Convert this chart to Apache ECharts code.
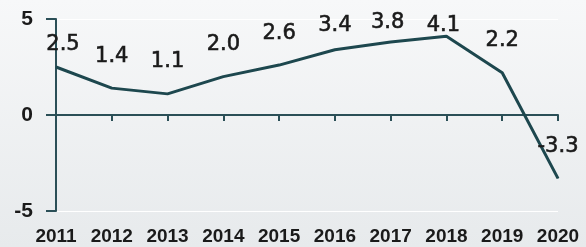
<!DOCTYPE html>
<html>
<head>
<meta charset="utf-8">
<script src="https://cdn.jsdelivr.net/npm/echarts@6/dist/echarts.min.js"></script>
<style>
  html, body { margin: 0; padding: 0; }
  #main { width: 586px; height: 247px; }
</style>
</head>
<body>
<div id="main"></div>
<script>
// years and values
var years = ['2011', '2012', '2013', '2014', '2015', '2016', '2017', '2018', '2019', '2020']
var values = [2.5, 1.4, 1.1, 2.0, 2.6, 3.4, 3.8, 4.1, 2.2, -3.3]
var yTicks = [-5, 0, 5]

// labels near the top get pushed down like in the original
var labelShift = {
  0: [7, 10],
  5: [0, 8],
  6: [-3, 13],
  7: [-3, 21]
}

var lineColor = '#1d474e'
var axisColor = '#2b4f57'
var textColor = '#1a1a1a'

var myChart = echarts.init(document.getElementById('main'))

var seriesData = values.map(function (v, i) {
  var item = { value: v }
  if (labelShift[i]) {
    item.label = { offset: labelShift[i] }
  }
  return item
})

var options = {
  backgroundColor: new echarts.graphic.LinearGradient(0, 0, 0, 1, [
    { offset: 0, color: '#f7f8f9' },
    { offset: 1, color: '#e7eaec' }
  ]),
  animation: false,
  grid: {
    left: 56,
    right: 28,
    top: 19,
    bottom: 36
  },
  xAxis: [
    {
      // labels along the bottom
      type: 'category',
      data: years,
      boundaryGap: false,
      position: 'bottom',
      axisLine: { show: false, onZero: false },
      axisTick: { show: false },
      axisLabel: {
        margin: 16,
        color: textColor,
        fontFamily: 'Liberation Sans',
        fontWeight: 'bold',
        fontSize: 19
      },
      splitLine: { show: false }
    },
    {
      // zero line with ticks
      type: 'category',
      data: years,
      boundaryGap: false,
      position: 'bottom',
      axisLine: { show: true, onZero: true, lineStyle: { color: axisColor, width: 2 } },
      axisTick: { show: true, inside: false, length: 6, lineStyle: { color: axisColor, width: 2 } },
      axisLabel: { show: false },
      splitLine: { show: false }
    }
  ],
  yAxis: [
    {
      type: 'value',
      min: yTicks[0],
      max: yTicks[yTicks.length - 1],
      interval: 5,
      axisLine: { show: true, lineStyle: { color: axisColor, width: 2 } },
      axisTick: { show: true, length: 10, lineStyle: { color: axisColor, width: 2 } },
      axisLabel: {
        margin: 23,
        color: textColor,
        fontFamily: 'Liberation Sans',
        fontWeight: 'bold',
        fontSize: 21
      },
      splitLine: { show: true, lineStyle: { color: '#ffffff', width: 1 } }
    }
  ],
  series: [
    {
      type: 'line',
      xAxisIndex: 0,
      data: seriesData,
      symbol: 'circle',
      symbolSize: 1,
      showSymbol: true,
      itemStyle: { color: lineColor },
      lineStyle: { color: lineColor, width: 3 },
      label: {
        show: true,
        position: 'top',
        distance: 21,
        color: textColor,
        fontFamily: 'DejaVu Sans',
        fontSize: 21,
        textBorderColor: textColor,
        textBorderWidth: 0.6,
        formatter: function (p) {
          return p.value.toFixed(1)
        }
      }
    }
  ]
}

myChart.setOption(options)
</script>
</body>
</html>
